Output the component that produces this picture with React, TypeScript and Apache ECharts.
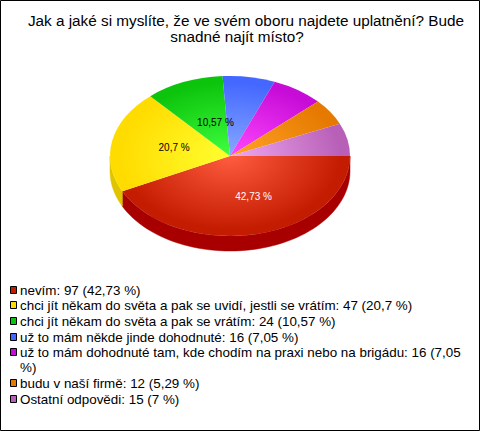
import React, { useEffect, useRef } from "react";
import * as echarts from "echarts";

const titleLines = ["Jak a jaké si myslíte, že ve svém oboru najdete uplatnění? Bude", "snadné najít místo?"];
const names = [
  "nevím: 97 (42,73 %)",
  "chci jít někam do světa a pak se uvidí, jestli se vrátím: 47 (20,7 %)",
  "chci jít někam do světa a pak se vrátím: 24 (10,57 %)",
  "už to mám někde jinde dohodnuté: 16 (7,05 %)",
  "už to mám dohodnuté tam, kde chodím na praxi nebo na brigádu: 16 (7,05\n%)",
  "budu v naší firmě: 12 (5,29 %)",
  "Ostatní odpovědi: 15 (7 %)",
];
const values = [97, 47, 24, 16, 16, 12, 15];
const sliceLabels = ["42,73 %", "20,7 %", "10,57 %", "", "", "", ""];
const labelColors = ["#fff", "#000", "#000", "#000", "#000", "#000", "#000"];
const edgeColors = ["#c41c00", "#ffdc00", "#0cc40c", "#4468ff", "#c80cd8", "#e67a00", "#b860b8"];
const innerColors = ["#ff5c40", "#ffff30", "#40ff40", "#88a8ff", "#ff48ff", "#ffa428", "#f0a8f0"];
const sideColors = ["#a80000", "#e0c400", "#0a9a0a", "#3050c8", "#a008b0", "#b86000", "#904c90"];
const labelNudgeX = [10, 3, 8.5, 0, 0, 0, 0];
const labelNudgeY = [2, -1, 3, 0, 0, 0, 0];

const CX = 230, CY = 156, RX = 120, RY = 80, DEPTH = 15;
const LEGEND_TOP = 290, ROW = 15.7, WRAP = 15;
const total = values.reduce((a, b) => a + b, 0);

const titleStyle = {
  fontFamily: "Liberation Sans",
  fontSize: 15.3,
  fontWeight: "normal",
  color: "#000",
  lineHeight: 16,
};

function buildLegend() {
  const out: any[] = [];
  let y = LEGEND_TOP;
  names.forEach((name, i) => {
    out.push({
      type: "rect",
      silent: true,
      shape: { x: 10.5, y: Math.round(y - 4.5) + 0.5, width: 6, height: 7 },
      style: { fill: edgeColors[i], stroke: "#000", lineWidth: 1 },
    });
    const lines = name.split("\n");
    lines.forEach((line, k) => {
      out.push({
        type: "text",
        silent: true,
        x: 20,
        y: y + k * WRAP,
        style: {
          text: line,
          fill: "#000",
          font: "13.4px 'Liberation Sans'",
          align: "left",
          verticalAlign: "middle",
        },
      });
    });
    y += ROW + (lines.length - 1) * WRAP;
  });
  return out;
}

function App() {
  const ref = useRef<HTMLDivElement>(null);
  useEffect(() => {
    const chart = echarts.init(ref.current!, null, { renderer: "svg" });
    const makeRender = (i: number) => (_p: any, api: any) => {
      const before = values.slice(0, i).reduce((a, b) => a + b, 0);
      const a0 = (before / total) * Math.PI * 2;
      const a1 = ((before + api.value(0)) / total) * Math.PI * 2;
      const children: any[] = [];
      const s0 = Math.max(a0, 0), s1 = Math.min(a1, Math.PI);
      if (s1 > s0) {
        const top: number[][] = [], bottom: number[][] = [];
        const n = 60;
        for (let k = 0; k <= n; k++) {
          const t = s0 + ((s1 - s0) * k) / n;
          const x = CX + RX * Math.cos(t), y = CY + RY * Math.sin(t);
          top.push([x, y]);
          bottom.unshift([x, y + DEPTH]);
        }
        children.push({
          type: "polygon",
          shape: { points: top.concat(bottom) },
          style: { fill: sideColors[i], stroke: sideColors[i], lineWidth: 0.5 },
        });
      }
      children.push({
        type: "sector",
        x: CX,
        y: CY,
        scaleY: RY / RX,
        shape: { cx: 0, cy: 0, r: RX, r0: 0, startAngle: a0, endAngle: a1, clockwise: true },
        style: {
          fill: new echarts.graphic.RadialGradient(0, 0, RX, [
            { offset: 0, color: innerColors[i] },
            { offset: 0.92, color: edgeColors[i] },
            { offset: 1, color: edgeColors[i] },
          ], true),
        },
      });
      if (sliceLabels[i]) {
        const mid = (a0 + a1) / 2;
        children.push({
          type: "text",
          z2: 100,
          x: CX + 0.5 * RX * Math.cos(mid) + labelNudgeX[i],
          y: CY + 0.5 * RY * Math.sin(mid) + labelNudgeY[i],
          style: {
            text: sliceLabels[i],
            fill: labelColors[i],
            font: "10px 'Liberation Sans'",
            align: "center",
            verticalAlign: "middle",
          },
        });
      }
      return { type: "group", children };
    };
    chart.setOption({
      animation: false,
      backgroundColor: "#fff",
      title: [
        { text: titleLines[0], left: 246, textAlign: "center", top: 12, padding: 0, textStyle: titleStyle },
        { text: titleLines[1], left: 237, textAlign: "center", top: 28, padding: 0, textStyle: titleStyle },
      ],
      graphic: [
        {
          type: "rect",
          silent: true,
          z: -1,
          shape: { x: 0.5, y: 0.5, width: 479, height: 430 },
          style: { fill: "none", stroke: "#000", lineWidth: 1 },
        },
        ...buildLegend(),
      ],
      series: names.map((name, i) => ({
        type: "custom",
        name: name.replace("\n", " "),
        coordinateSystem: "none",
        itemStyle: { color: edgeColors[i] },
        data: [[values[i]]],
        renderItem: makeRender(i),
      })),
    });
    return () => chart.dispose();
  }, []);
  return <div ref={ref} style={{ position: "fixed", left: 0, top: 0, width: 480, height: 431 }} />;
}

export default App;
